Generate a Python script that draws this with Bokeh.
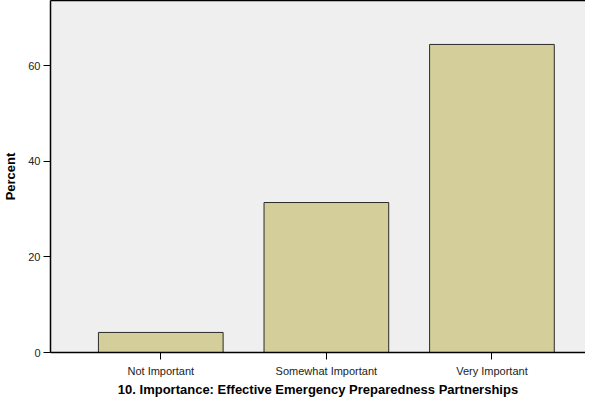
from bokeh.plotting import figure
from bokeh.models import Range1d, FixedTicker, LinearAxis
from bokeh.embed import file_html
from bokeh.resources import INLINE

categories = ["Not Important", "Somewhat Important", "Very Important"]
percent = [4.2, 31.4, 64.5]
y_ticks = [0, 20, 40, 60]

xs = list(range(len(categories)))

p = figure(width=585, height=399, output_backend="svg", toolbar_location=None,
           x_range=Range1d(-0.666, 2.565), y_range=Range1d(0, 73.7),
           min_border_left=42, min_border_right=0, min_border_top=0, min_border_bottom=0)

p.background_fill_color = "#EFEFEF"
p.border_fill_color = "white"
p.outline_line_color = None
p.xgrid.visible = False
p.ygrid.visible = False

p.vbar(x=xs, top=percent, width=0.753, bottom=0,
       fill_color="#D3CE9A", line_color="#2b2b2b", line_width=1)

font = "Liberation Sans"
bx = p.xaxis[0]
ly = p.yaxis[0]
ly.ticker = FixedTicker(ticks=y_ticks)
bx.ticker = FixedTicker(ticks=xs)
bx.major_label_overrides = {i: c for i, c in enumerate(categories)}

for ax in (bx, ly):
    ax.axis_line_color = "black"
    ax.axis_line_width = 1.5
    ax.major_tick_line_color = "black"
    ax.major_tick_line_width = 1
    ax.major_tick_out = 7
    ax.major_tick_in = 0
    ax.minor_tick_out = 0
    ax.minor_tick_in = 0
    ax.major_label_text_font = font
    ax.major_label_text_font_size = "11px"
    ax.major_label_text_color = "#222222"
    ax.axis_label_text_font = font
    ax.axis_label_text_font_style = "bold"
    ax.axis_label_text_font_size = "13px"
    ax.axis_label_text_color = "black"

bx.axis_label = "10. Importance: Effective Emergency Preparedness Partnerships"
ly.axis_label = "Percent"
bx.major_label_standoff = 5
bx.axis_label_standoff = 2
ly.major_label_standoff = 3
ly.axis_label_standoff = 7

# top border line only (plot area continues past the right edge in the reference)
top_axis = LinearAxis(ticker=FixedTicker(ticks=[]), axis_line_color="black",
                      axis_line_width=1.5, major_tick_out=0, major_tick_in=0,
                      minor_tick_out=0, minor_tick_in=0, major_label_standoff=0,
                      major_label_text_font_size="0px")
p.add_layout(top_axis, "above")

open("out.html", "w").write(file_html(p, INLINE))
